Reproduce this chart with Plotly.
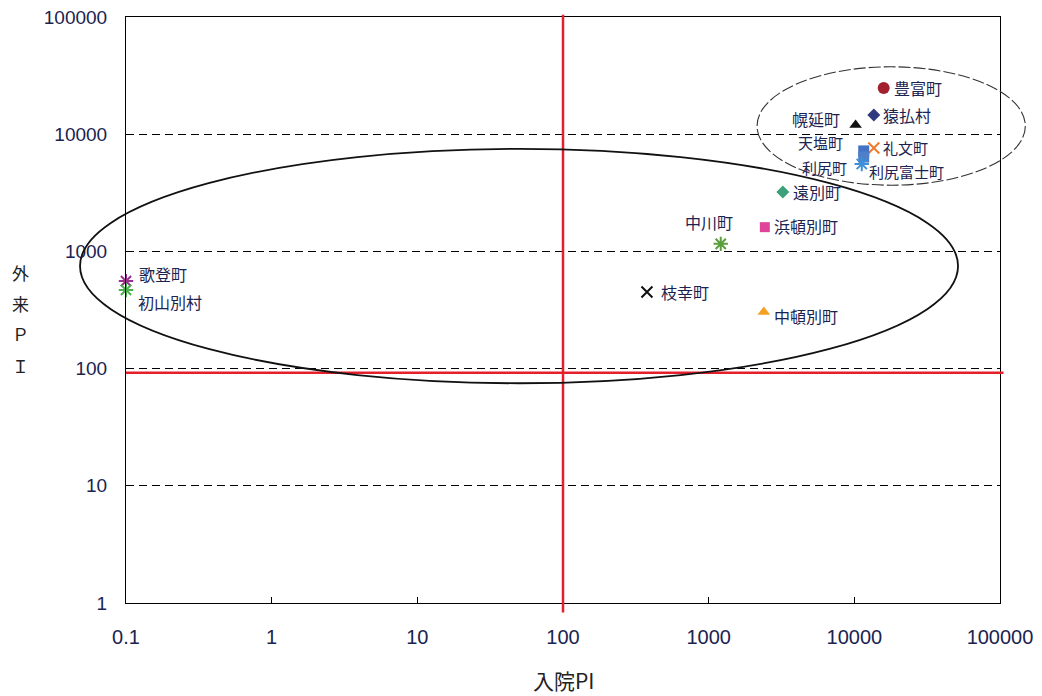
import math
import plotly.graph_objects as go

# ---- data ----
towns = ["豊富町", "猿払村", "幌延町", "礼文町", "天塩町", "利尻町", "利尻富士町",
         "遠別町", "浜頓別町", "中川町", "枝幸町", "中頓別町", "歌登町", "初山別村"]
inpatient_pi = [15900, 13600, 10200, 13600, 11600, 11600, 11250,
                3230, 2430, 1210, 377, 2390, 0.1, 0.1]
outpatient_pi = [24800, 14600, 12000, 7620, 7200, 6380, 5570,
                 3210, 1610, 1160, 451, 304, 558, 469]
x_ticks = [0.1, 1, 10, 100, 1000, 10000, 100000]
x_tick_labels = ["0.1", "1", "10", "100", "1000", "10000", "100000"]
y_ticks = [1, 10, 100, 1000, 10000, 100000]
y_tick_labels = ["1", "10", "100", "1000", "10000", "100000"]
threshold_x = 100
threshold_y = 92

# ---- styles ----
symbols = ["circle", "diamond", "triangle-up", "x-thin-open", "square", "square", "asterisk-open",
           "diamond", "square", "asterisk-open", "x-thin-open", "triangle-up", "asterisk-open", "asterisk-open"]
colors = ["#A3202E", "#2F3A7E", "#111111", "#F07B2A", "#4472C4", "#4F7FC8", "#3D8FD8",
          "#3CA078", "#E0449A", "#5C9E3C", "#111111", "#F5A020", "#9B2F8F", "#4CB04C"]
sizes = [12, 10, 11, 11, 11, 11, 12, 10, 10, 12, 11, 11, 12, 12]
# label placement: (xanchor, xshift, yshift, font size)
label_pos = [("left", 8, 0, 16), ("left", 7, 0, 16), ("right", -14, 6, 16), ("left", 7, 1, 15),
             ("right", -19, 8, 15), ("right", -15, -10, 15), ("left", 5, -8, 15),
             ("left", 8, 0, 16), ("left", 7, 1, 16), ("center", -12, 22, 16), ("left", 12, 0, 16),
             ("left", 8, -4, 16), ("left", 11, 7, 16), ("left", 10, -12, 16)]

CJK = "Noto Sans CJK JP, sans-serif"
TXT = "#1B2350"

fig = go.Figure()
for i, t in enumerate(towns):
    open_sym = symbols[i].endswith("-open")
    fig.add_trace(go.Scatter(
        x=[inpatient_pi[i]], y=[outpatient_pi[i]], mode="markers", name=t,
        cliponaxis=False,
        marker=dict(symbol=symbols[i], size=sizes[i], color=colors[i],
                    line=dict(color=colors[i], width=2 if open_sym else 0)),
        showlegend=False))
    xa, xs, ys, fs = label_pos[i]
    fig.add_annotation(x=math.log10(inpatient_pi[i]), y=math.log10(outpatient_pi[i]),
                       xref="x", yref="y", text=t, showarrow=False,
                       xanchor=xa, yanchor="middle", xshift=xs, yshift=ys,
                       font=dict(family=CJK, size=fs, color=TXT))

# red reference lines
fig.add_shape(type="line", xref="x", yref="paper", x0=threshold_x, x1=threshold_x,
              y0=-0.016, y1=1.004, line=dict(color="#E5202C", width=2.5))
fig.add_shape(type="line", xref="paper", yref="y", x0=0, x1=1.004,
              y0=threshold_y, y1=threshold_y, line=dict(color="#E5202C", width=2.5))

# ellipses
fig.add_shape(type="circle", xref="paper", yref="paper",
              x0=-0.0526, x1=0.952, y0=0.375, y1=0.775,
              line=dict(color="#111111", width=1.8))
fig.add_shape(type="circle", xref="paper", yref="paper",
              x0=0.722, x1=1.029, y0=0.713, y1=0.915,
              line=dict(color="#333333", width=1.1, dash="12px,3px"))

# axis titles
fig.add_annotation(x=0.5, y=(603 - 680) / 586, xref="paper", yref="paper", text="入院PI",
                   xanchor="center", yanchor="middle", showarrow=False,
                   font=dict(family=CJK, size=21, color="#222222"))
for k, ch in enumerate(["外", "来", "Ｐ", "Ｉ"]):
    fig.add_annotation(x=-0.121, y=(603 - (272 + 31 * k)) / 586, xref="paper", yref="paper",
                       text=ch, showarrow=False, xanchor="center", yanchor="middle",
                       font=dict(family=CJK, size=17, color="#222222"))

fig.update_layout(
    width=1042, height=696,
    margin=dict(l=126, r=42, t=17, b=93),
    paper_bgcolor="white", plot_bgcolor="white",
    showlegend=False,
    xaxis=dict(type="log", range=[-1, 5], tickvals=x_ticks, ticktext=x_tick_labels,
               automargin=False,
               showgrid=False, zeroline=False, showline=True, linecolor="black", linewidth=1,
               mirror=True, ticks="inside", ticklen=6, tickcolor="black",
               ticklabelstandoff=16,
               tickfont=dict(family="Liberation Sans, Arial, sans-serif",
                             size=20, color=TXT)),
    yaxis=dict(type="log", range=[0, 5], tickvals=y_ticks, ticktext=y_tick_labels,
               automargin=False,
               showgrid=True, gridcolor="black", gridwidth=1.2, griddash="8px,5px",
               zeroline=False, showline=True, linecolor="black", linewidth=1,
               mirror=True, ticks="inside", ticklen=6, tickcolor="black",
               ticklabelstandoff=14,
               tickfont=dict(family="Liberation Sans, Arial, sans-serif", size=19, color=TXT)),
)

fig.write_html("out.html")
